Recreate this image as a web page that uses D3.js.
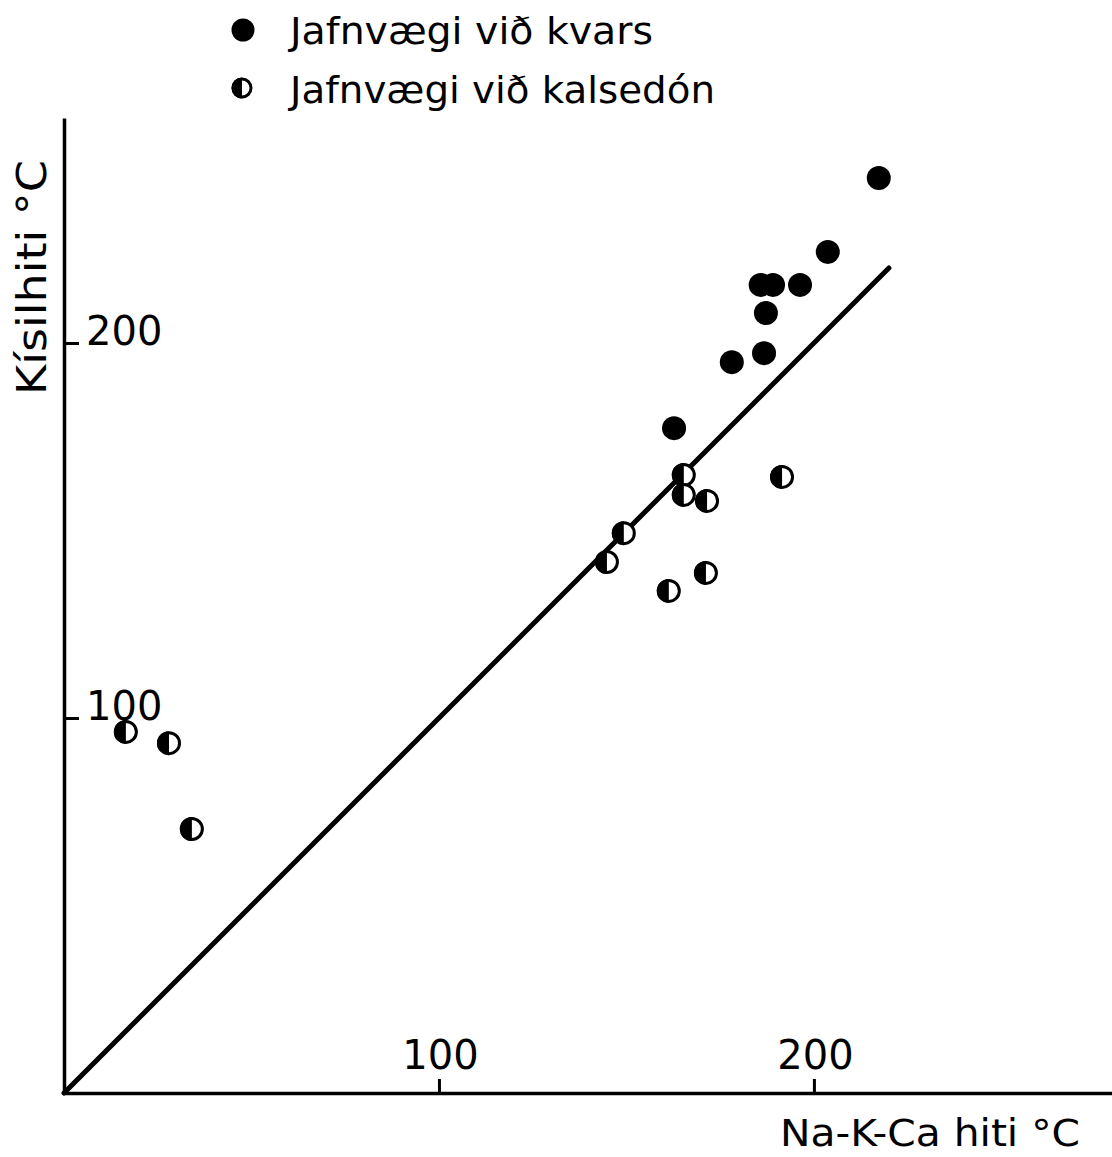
<!DOCTYPE html>
<html>
<head>
<meta charset="utf-8">
<script src="https://cdn.jsdelivr.net/npm/d3@7"></script>
<style>
  html, body { margin: 0; padding: 0; background: #fff; }
  svg { display: block; }
  text { font-family: "DejaVu Sans", sans-serif; fill: #000; }
</style>
</head>
<body>
<svg id="chart" width="1112" height="1157"></svg>
<script>
// Na-K-Ca temperature (x) vs. silica temperature (y), °C
const quartzNaKCa   = [217.3, 203.7, 185.8, 189.1, 196.3, 187.2, 186.7, 178.1, 162.7];
const quartzSilica  = [244.0, 224.3, 215.5, 215.5, 215.5, 208.0, 197.3, 194.9, 177.3];

const chalcNaKCa    = [16.5, 28.0, 34.1, 165.3, 165.3, 171.5, 149.3, 144.8, 171.2, 161.3, 191.5];
const chalcSilica   = [96.3, 93.3, 70.4, 164.8, 159.5, 157.9, 149.3, 141.6, 138.7, 133.9, 164.3];

const xTicks = [100, 200];
const yTicks = [100, 200];
const equalityLine = [0, 220];

const legendLabels = ["Jafnvægi við kvars", "Jafnvægi við kalsedón"];
const xTitle = "Na-K-Ca hiti °C";
const yTitle = "Kísilhiti °C";

const svg = d3.select("#chart");

const x = d3.scaleLinear().domain([0, 279.5]).range([64, 1112]);
const y = d3.scaleLinear().domain([0, 260]).range([1093, 118]);

// axes: ticks point inward, labels sit inside the plot
const xAxis = svg.append("g")
  .attr("transform", `translate(0,${y(0)})`)
  .call(d3.axisBottom(x).tickValues(xTicks).tickSizeInner(-14).tickSizeOuter(0).tickFormat(d3.format("d")));
xAxis.select(".domain").attr("stroke", "#000").attr("stroke-width", 3.5);
xAxis.selectAll(".tick line").attr("stroke", "#000").attr("stroke-width", 3);
xAxis.selectAll(".tick text")
  .attr("y", -24).attr("dy", 0)
  .attr("x", 1)
  .attr("text-anchor", "middle")
  .style("font-size", "40px").style("font-family", "DejaVu Sans");

const yAxis = svg.append("g")
  .attr("transform", `translate(${x(0)},0)`)
  .call(d3.axisLeft(y).tickValues(yTicks).tickSizeInner(-15).tickSizeOuter(0).tickFormat(d3.format("d")));
yAxis.select(".domain").attr("stroke", "#000").attr("stroke-width", 3.5);
yAxis.selectAll(".tick line").attr("stroke", "#000").attr("stroke-width", 3);
yAxis.selectAll(".tick text")
  .attr("x", 22).attr("dy", 0).attr("y", 1)
  .attr("text-anchor", "start")
  .style("font-size", "40px").style("font-family", "DejaVu Sans");

// 1:1 line
svg.append("line")
  .attr("x1", x(equalityLine[0])).attr("y1", y(equalityLine[0]))
  .attr("x2", x(equalityLine[1])).attr("y2", y(equalityLine[1]))
  .attr("stroke", "#000").attr("stroke-width", 5).attr("stroke-linecap", "round");

// marker drawing helpers
function fullDot(g, cx, cy, r) {
  g.append("circle").attr("cx", cx).attr("cy", cy).attr("r", r).attr("fill", "#000");
}
function halfDot(g, cx, cy, r) {
  const grp = g.append("g").attr("transform", `translate(${cx},${cy})`);
  grp.append("circle").attr("r", r - 1.5).attr("fill", "#fff").attr("stroke", "#000").attr("stroke-width", 3);
  grp.append("path")
    .attr("d", d3.arc()({innerRadius: 0, outerRadius: r, startAngle: Math.PI, endAngle: 2 * Math.PI}))
    .attr("fill", "#000");
}

const pts = svg.append("g");
chalcNaKCa.forEach((v, i) => halfDot(pts, x(v), y(chalcSilica[i]), 12));
quartzNaKCa.forEach((v, i) => fullDot(pts, x(v), y(quartzSilica[i]), 12));

// legend
const legend = svg.append("g");
fullDot(legend, 243, 30, 11.5);
halfDot(legend, 242, 88, 10.5);
legend.append("text").attr("x", 290).attr("y", 44).text(legendLabels[0])
  .style("font-size", "38px").attr("textLength", 363).attr("lengthAdjust", "spacingAndGlyphs");
legend.append("text").attr("x", 290).attr("y", 103).text(legendLabels[1])
  .style("font-size", "38px").attr("textLength", 425).attr("lengthAdjust", "spacingAndGlyphs");

// axis titles
svg.append("text").attr("x", 780).attr("y", 1146).text(xTitle)
  .style("font-size", "37px").attr("textLength", 300).attr("lengthAdjust", "spacingAndGlyphs");
svg.append("text")
  .attr("transform", "translate(46,395) rotate(-90)")
  .text(yTitle)
  .style("font-size", "40px").attr("textLength", 235).attr("lengthAdjust", "spacingAndGlyphs");
</script>
</body>
</html>
